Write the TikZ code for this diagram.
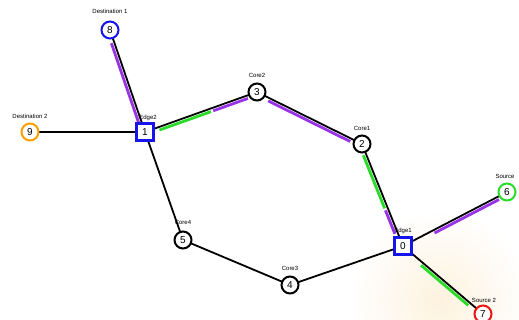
\documentclass[tikz,border=0pt]{standalone}
\usepackage{fontspec}
\setmainfont{Liberation Sans}
\usetikzlibrary{calc}
\definecolor{pathpurple}{RGB}{153,51,230}
\definecolor{pathgreen}{RGB}{40,220,40}
\definecolor{nodeblue}{RGB}{20,20,235}
\definecolor{nodeorange}{RGB}{255,160,0}
\definecolor{nodered}{RGB}{235,20,20}
\definecolor{wmark}{RGB}{253,242,222}
\tikzset{
  roundnode/.style={circle, draw=#1, line width=2pt, fill=white, minimum size=17pt, inner sep=0pt, font=\fontsize{10}{12}\selectfont},
  squarenode/.style={rectangle, draw=nodeblue, line width=2.3pt, fill=white, minimum size=17pt, inner sep=0pt, font=\fontsize{10}{12}\selectfont},
  lbl/.style={font=\fontsize{6}{7}\selectfont, inner sep=0pt},
  link/.style={line width=1.8pt, black},
  pathseg/.style={line width=2.8pt, #1},
}
\newcommand\cseg[6]{%
  \draw[pathseg=#6] ($(#1)!#3!(#2)!#5!-90:(#2)$) -- ($(#1)!#4!(#2)!#5!90:(#1)$);}
\begin{document}
\begin{tikzpicture}[x=1pt,y=-1pt]
\useasboundingbox (0,0) rectangle (519,320);
\begin{scope}
\clip (0,0) rectangle (519,320);
\shade[inner color=wmark, outer color=white] (440,300) circle[radius=90];
\end{scope}
% positions
\coordinate (p8) at (110,30);
\coordinate (p9) at (30,132);
\coordinate (p1) at (145,132);
\coordinate (p3) at (257,92);
\coordinate (p2) at (362,144);
\coordinate (p5) at (183,240);
\coordinate (p4) at (290,285);
\coordinate (p0) at (403,246);
\coordinate (p6) at (507,192);
\coordinate (p7) at (483,314);
% labels
\node[lbl] (l8) at (110,11) {Destination 1};
\node[lbl] (l9) at (30,116) {Destination 2};
\node[lbl] (l1) at (148,118) {Edge2};
\node[lbl] (l3) at (257,75) {Core2};
\node[lbl] (l2) at (362,128) {Core1};
\node[lbl] (l5) at (183,222) {Core4};
\node[lbl] (l4) at (290,268) {Core3};
\node[lbl] (l0) at (403,231) {Edge1};
\node[lbl] (l6) at (505,176) {Source};
\node[lbl] (l7) at (484,300) {Source 2};
% links
\draw[link] (p8) -- (p1);
\draw[link] (p9) -- (p1);
\draw[link] (p1) -- (p3);
\draw[link] (p3) -- (p2);
\draw[link] (p2) -- (p0);
\draw[link] (p1) -- (p5);
\draw[link] (p5) -- (p4);
\draw[link] (p4) -- (p0);
\draw[link] (p0) -- (p6);
\draw[link] (p0) -- (p7);
% coloured path segments
\cseg{p8}{p1}{0.12}{0.9}{3pt}{pathpurple}
\cseg{p1}{p3}{0.12}{0.58}{3pt}{pathgreen}
\cseg{p1}{p3}{0.6}{0.91}{3pt}{pathpurple}
\cseg{p3}{p2}{0.12}{0.9}{3pt}{pathpurple}
\cseg{p2}{p0}{0.1}{0.62}{3pt}{pathgreen}
\cseg{p2}{p0}{0.64}{0.87}{3pt}{pathpurple}
\cseg{p0}{p6}{0.29}{0.91}{3pt}{pathpurple}
\cseg{p0}{p7}{0.25}{0.84}{3pt}{pathgreen}
% nodes
\node[roundnode=nodeblue] (n8) at (p8) {8};
\node[roundnode=nodeorange] (n9) at (p9) {9};
\node[squarenode] (n1) at (p1) {1};
\node[roundnode=black] (n3) at (p3) {3};
\node[roundnode=black] (n2) at (p2) {2};
\node[roundnode=black] (n5) at (p5) {5};
\node[roundnode=black] (n4) at (p4) {4};
\node[squarenode] (n0) at (p0) {0};
\node[roundnode=pathgreen] (n6) at (p6) {6};
\node[roundnode=nodered] (n7) at (p7) {7};
\end{tikzpicture}
\end{document}
